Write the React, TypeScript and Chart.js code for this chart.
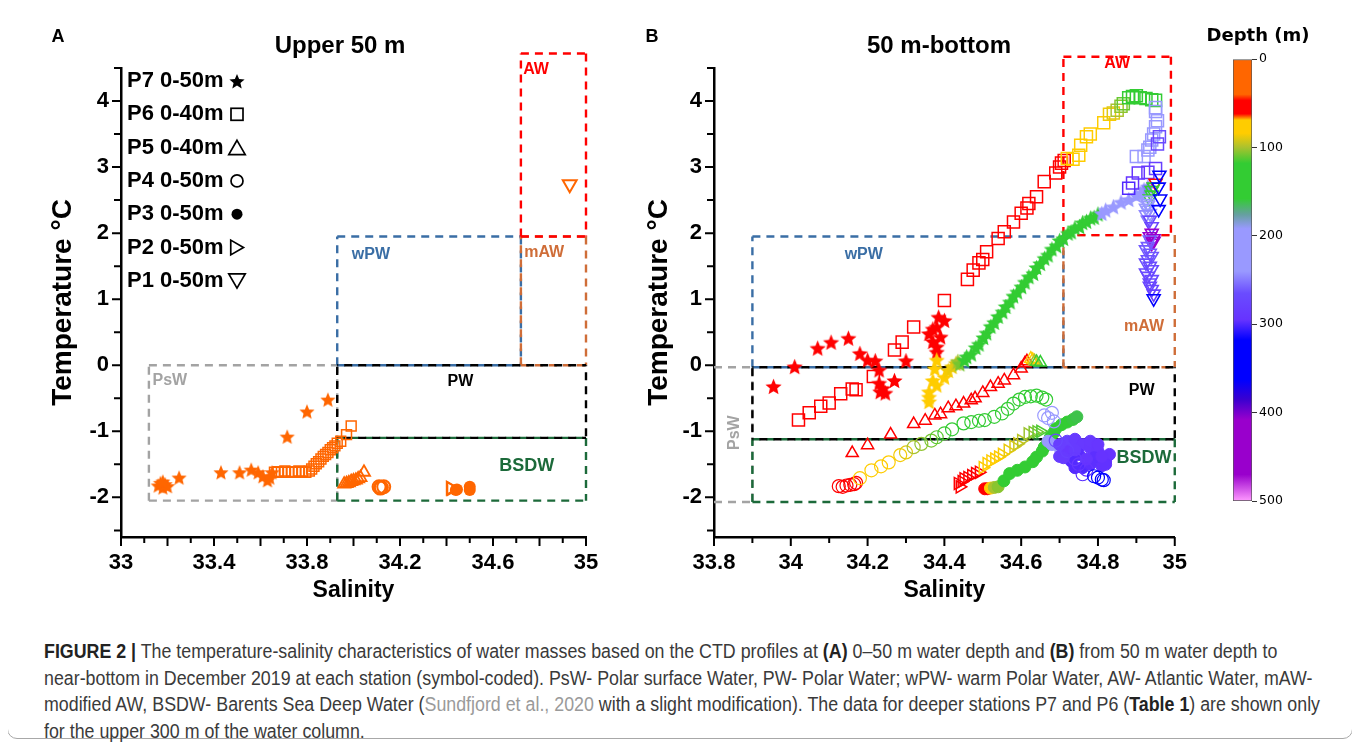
import React, { useEffect, useLayoutEffect, useRef } from 'react';
import { Chart, registerables } from 'chart.js';

Chart.register(...registerables);

const SANS = '"Liberation Sans", Arial, Helvetica, sans-serif';
const ORANGE = '#ff6600';

// ---------- axis ticks ----------
const aSalTicks = [33, 33.1, 33.2, 33.3, 33.4, 33.5, 33.6, 33.7, 33.8, 33.9, 34, 34.1, 34.2, 34.3, 34.4, 34.5, 34.6, 34.7, 34.8, 34.9, 35];
const aSalLabels = [33, 33.4, 33.8, 34.2, 34.6, 35];
const bSalTicks = [33.8, 33.9, 34, 34.1, 34.2, 34.3, 34.4, 34.5, 34.6, 34.7, 34.8, 34.9, 35];
const bSalLabels = [33.8, 34, 34.2, 34.4, 34.6, 34.8, 35];
const tempTicks = [-2.5, -2, -1.5, -1, -0.5, 0, 0.5, 1, 1.5, 2, 2.5, 3, 3.5, 4, 4.5];
const tempLabels = [-2, -1, 0, 1, 2, 3, 4];
const depthTicks = [0, 100, 200, 300, 400, 500];

// ---------- Panel A (upper 50 m) ----------
const aP7Sal = [33.16, 33.17, 33.18, 33.19, 33.2, 33.18, 33.25, 33.43, 33.51, 33.56, 33.59, 33.61, 33.63, 33.65, 33.64, 33.715, 33.8, 33.89];
const aP7Temp = [-1.82, -1.78, -1.85, -1.8, -1.83, -1.76, -1.7, -1.62, -1.62, -1.58, -1.62, -1.68, -1.74, -1.62, -1.7, -1.08, -0.7, -0.52];
const aP6Sal = [33.66, 33.675, 33.69, 33.705, 33.72, 33.735, 33.75, 33.765, 33.78, 33.795, 33.81, 33.82, 33.83, 33.84, 33.85, 33.86, 33.87, 33.88, 33.89, 33.9, 33.91, 33.92, 33.93, 33.945, 33.97, 33.99];
const aP6Temp = [-1.62, -1.61, -1.62, -1.6, -1.62, -1.61, -1.62, -1.6, -1.61, -1.62, -1.6, -1.57, -1.53, -1.49, -1.46, -1.42, -1.38, -1.35, -1.32, -1.28, -1.25, -1.22, -1.18, -1.15, -1.05, -0.92];
const aP5Sal = [33.96, 33.97, 33.98, 33.99, 34.0, 34.01, 34.02, 34.03, 34.045];
const aP5Temp = [-1.8, -1.79, -1.78, -1.76, -1.75, -1.74, -1.72, -1.7, -1.62];
const aP4Sal = [34.11, 34.115, 34.12, 34.13];
const aP4Temp = [-1.84, -1.86, -1.85, -1.84];
const aP3Sal = [34.44, 34.445, 34.5, 34.5];
const aP3Temp = [-1.89, -1.88, -1.84, -1.89];
const aP2Sal = [34.417, 34.42];
const aP2Temp = [-1.86, -1.87];
const aP1Sal = [34.93];
const aP1Temp = [2.74];

// ---------- Panel B (50 m - bottom), with depth (m) ----------
const bP1Sal = [34.95, 34.945, 34.94, 34.94, 34.935, 34.93, 34.925, 34.93, 34.925, 34.93, 34.935, 34.925, 34.93, 34.96, 34.958, 34.962, 34.958, 34.935, 34.94, 34.94, 34.935, 34.945, 34.945, 34.94, 34.935, 34.93, 34.925, 34.935, 34.94, 34.93, 34.925, 34.935, 34.94, 34.925, 34.93, 34.94, 34.935, 34.935, 34.94, 34.945, 34.945];
const bP1Temp = [2.76, 2.7, 2.65, 2.58, 2.52, 2.45, 2.5, 2.42, 2.38, 2.35, 2.3, 2.28, 2.2, 2.88, 2.7, 2.52, 2.36, 2.2, 2.1, 2.0, 1.95, 1.92, 1.88, 1.85, 1.9, 1.8, 1.75, 1.7, 1.65, 1.6, 1.55, 1.5, 1.45, 1.4, 1.35, 1.3, 1.25, 1.2, 1.15, 1.08, 1.01];
const bP1Depth = [50, 125, 130, 135, 140, 200, 230, 235, 210, 240, 220, 245, 250, 340, 347, 352, 357, 270, 275, 430, 435, 440, 445, 450, 258, 259, 260, 261, 262, 263, 264, 265, 266, 267, 268, 269, 270, 271, 272, 280, 340];

const bP6Sal = [34.02, 34.048, 34.078, 34.1, 34.13, 34.16, 34.17, 34.215, 34.27, 34.29, 34.32, 34.4, 34.46, 34.475, 34.49, 34.5, 34.51, 34.54, 34.556, 34.58, 34.6, 34.615, 34.62, 34.64, 34.66, 34.69, 34.7, 34.705, 34.712, 34.72, 34.735, 34.75, 34.755, 34.77, 34.78, 34.815, 34.83, 34.84, 34.85, 34.86, 34.866, 34.88, 34.89, 34.9, 34.91, 34.925, 34.94, 34.95, 34.95, 34.95, 34.955, 34.95, 34.945, 34.94, 34.935, 34.93, 34.92, 34.9, 34.96, 34.955, 34.95, 34.93, 34.905, 34.89, 34.88];
const bP6Temp = [-0.83, -0.72, -0.62, -0.57, -0.43, -0.36, -0.37, -0.17, 0.23, 0.35, 0.58, 0.98, 1.3, 1.44, 1.55, 1.6, 1.72, 1.92, 2.02, 2.17, 2.3, 2.38, 2.45, 2.55, 2.78, 2.91, 3.0, 3.06, 3.1, 3.13, 3.12, 3.18, 3.33, 3.46, 3.5, 3.67, 3.8, 3.82, 3.86, 3.92, 3.96, 4.05, 4.07, 4.08, 4.05, 4.04, 4.02, 4.01, 3.9, 3.84, 3.7, 3.61, 3.5, 3.41, 3.3, 3.26, 3.16, 3.16, 3.46, 3.35, 2.98, 2.92, 2.91, 2.76, 2.68];
const bP6Depth = [50, 50, 51, 51, 52, 52, 52, 53, 53, 54, 54, 55, 55, 56, 56, 56, 57, 57, 58, 58, 59, 59, 60, 60, 60, 60, 61, 61, 61, 70, 72, 75, 76, 78, 80, 83, 86, 90, 100, 105, 110, 125, 130, 135, 140, 145, 150, 155, 195, 200, 205, 210, 215, 220, 225, 230, 235, 240, 265, 270, 280, 285, 290, 295, 300];

const bP7Sal = [
  33.955, 34.01, 34.07, 34.105, 34.15, 34.18, 34.2, 34.22, 34.23, 34.23, 34.233, 34.246, 34.24, 34.27, 34.3, 34.36, 34.37, 34.38, 34.4, 34.385, 34.39, 34.38, 34.38, 34.37,
  34.38, 34.375, 34.37, 34.36, 34.36, 34.36, 34.38, 34.4, 34.41, 34.42, 34.43,
  34.435, 34.44,
  34.452, 34.458, 34.47, 34.482, 34.49, 34.502, 34.51, 34.521, 34.53, 34.54, 34.552, 34.56, 34.571, 34.58, 34.59, 34.601, 34.61, 34.62, 34.632, 34.64, 34.65, 34.661, 34.67, 34.68, 34.692, 34.7, 34.71, 34.722, 34.73, 34.74, 34.752, 34.76, 34.77, 34.781, 34.79, 34.8,
  34.81, 34.82, 34.84, 34.86, 34.88, 34.9, 34.91, 34.92, 34.93,
];
const bP7Temp = [
  -0.32, -0.02, 0.26, 0.35, 0.41, 0.18, 0.08, 0.07, -0.07, -0.27, -0.4, -0.42, -0.35, -0.23, 0.07, 0.48, 0.55, 0.58, 0.68, 0.73, 0.43, 0.28, 0.2, 0.36,
  0.08, -0.05, -0.23, -0.4, -0.48, -0.55, -0.3, -0.18, -0.08, -0.02, 0.03,
  0.06, 0.02,
  0.08, 0.13, 0.17, 0.27, 0.32, 0.42, 0.49, 0.59, 0.65, 0.74, 0.81, 0.89, 0.96, 1.05, 1.11, 1.19, 1.26, 1.34, 1.39, 1.48, 1.54, 1.62, 1.67, 1.76, 1.81, 1.89, 1.92, 2.0, 2.02, 2.08, 2.1, 2.16, 2.18, 2.23, 2.24, 2.29,
  2.3, 2.35, 2.4, 2.47, 2.51, 2.57, 2.6, 2.66, 2.7,
];
const bP7Depth = [
  50, 50, 51, 51, 52, 52, 53, 53, 54, 54, 55, 55, 55, 56, 56, 57, 57, 58, 58, 59, 59, 60, 60, 60,
  70, 72, 74, 76, 78, 80, 82, 84, 86, 88, 92,
  102, 108,
  118, 119, 120, 121, 122, 123, 124, 125, 126, 127, 128, 129, 130, 131, 132, 133, 134, 135, 136, 137, 138, 139, 140, 141, 142, 143, 144, 145, 146, 147, 148, 149, 150, 152, 154, 156,
  192, 196, 200, 205, 210, 220, 230, 240, 250,
];

const bP5Sal = [34.16, 34.2, 34.26, 34.32, 34.35, 34.375, 34.39, 34.41, 34.43, 34.45, 34.47, 34.48, 34.5, 34.52, 34.54, 34.556, 34.58, 34.6, 34.61, 34.615, 34.625, 34.63, 34.635, 34.64, 34.65];
const bP5Temp = [-1.33, -1.21, -1.05, -0.89, -0.84, -0.76, -0.74, -0.65, -0.62, -0.58, -0.53, -0.5, -0.42, -0.33, -0.28, -0.23, -0.15, -0.05, 0.03, 0.06, 0.1, 0.08, 0.06, 0.05, 0.04];
const bP5Depth = [50, 50, 51, 51, 52, 52, 53, 53, 54, 54, 55, 55, 56, 56, 57, 57, 58, 58, 59, 60, 75, 82, 100, 115, 125];

const bP2Sal = [34.435, 34.44, 34.445, 34.45, 34.46, 34.47, 34.48, 34.49, 34.5, 34.51, 34.52, 34.53, 34.54, 34.55, 34.565, 34.58, 34.59, 34.6, 34.617, 34.63, 34.64, 34.65];
const bP2Temp = [-1.79, -1.84, -1.76, -1.72, -1.7, -1.67, -1.64, -1.62, -1.55, -1.49, -1.45, -1.42, -1.39, -1.35, -1.29, -1.23, -1.19, -1.14, -1.04, -1.02, -1.01, -1.0];
const bP2Depth = [50, 50, 52, 53, 55, 57, 59, 60, 70, 73, 76, 79, 82, 85, 88, 91, 94, 97, 102, 106, 110, 114];

const bP4Sal = [34.125, 34.135, 34.145, 34.155, 34.165, 34.17, 34.18, 34.21, 34.235, 34.255, 34.285, 34.3, 34.32, 34.34, 34.366, 34.38, 34.4, 34.42, 34.45, 34.47, 34.49, 34.505, 34.53, 34.55, 34.565, 34.58, 34.595, 34.61, 34.625, 34.64, 34.655, 34.665, 34.66, 34.67, 34.68, 34.685, 34.69, 34.72, 34.74, 34.75, 34.77, 34.76, 34.79, 34.8, 34.81, 34.815];
const bP4Temp = [-1.83, -1.84, -1.82, -1.81, -1.8, -1.78, -1.71, -1.59, -1.53, -1.47, -1.36, -1.32, -1.24, -1.19, -1.14, -1.09, -1.03, -0.97, -0.88, -0.86, -0.84, -0.83, -0.78, -0.73, -0.66, -0.58, -0.52, -0.48, -0.47, -0.46, -0.49, -0.52, -0.76, -0.8, -0.72, -0.85, -1.14, -1.3, -1.42, -1.5, -1.58, -1.65, -1.68, -1.7, -1.73, -1.74];
const bP4Depth = [50, 52, 54, 56, 58, 60, 70, 74, 78, 82, 86, 90, 100, 104, 108, 112, 116, 120, 124, 128, 130, 132, 134, 136, 138, 140, 142, 144, 146, 148, 150, 152, 200, 210, 220, 230, 270, 280, 285, 290, 295, 298, 330, 340, 350, 355];

const bP3Sal = [34.505, 34.512, 34.52, 34.53, 34.54, 34.555, 34.57, 34.59, 34.61, 34.63, 34.64, 34.655, 34.66, 34.67, 34.676, 34.685, 34.69, 34.705, 34.72, 34.735, 34.745, 34.67, 34.68, 34.7, 34.72, 34.74, 34.76, 34.78, 34.8, 34.82, 34.81, 34.79, 34.75, 34.73, 34.76, 34.72, 34.7, 34.7, 34.74, 34.78, 34.8, 34.83, 34.82, 34.78, 34.74, 34.71, 34.77, 34.81];
const bP3Temp = [-1.87, -1.87, -1.86, -1.85, -1.84, -1.75, -1.64, -1.59, -1.54, -1.46, -1.39, -1.3, -1.24, -1.15, -1.09, -1.02, -0.96, -0.9, -0.86, -0.82, -0.78, -1.15, -1.2, -1.25, -1.15, -1.12, -1.2, -1.25, -1.3, -1.45, -1.52, -1.4, -1.35, -1.45, -1.55, -1.3, -1.38, -1.2, -1.28, -1.15, -1.2, -1.35, -1.5, -1.5, -1.55, -1.4, -1.42, -1.38];
const bP3Depth = [50, 55, 75, 100, 105, 118, 122, 126, 130, 134, 138, 142, 145, 148, 150, 152, 154, 156, 158, 160, 162, 210, 220, 230, 280, 285, 288, 290, 292, 295, 296, 297, 298, 299, 300, 290, 286, 282, 286, 289, 291, 294, 296, 297, 299, 287, 293, 295];

// ---------- depth colour map ----------
const cmapDepth = [0, 40, 47, 62, 69, 84, 100, 118, 158, 176, 192, 240, 265, 295, 318, 363, 385, 408, 470, 500];
const cmapColor = ['#ff6600', '#ff6600', '#ff0000', '#ff0000', '#ffcc00', '#ffcc00', '#aac22e', '#33cc33', '#33cc33', '#66a0a0', '#9999ff', '#9999ff', '#6a4cff', '#6633ff', '#0000ff', '#0000ff', '#3a00d0', '#9900cc', '#9900cc', '#ff99ff'];

function hexRgb(c: string) {
  return [parseInt(c.slice(1, 3), 16), parseInt(c.slice(3, 5), 16), parseInt(c.slice(5, 7), 16)];
}
function depthColor(d: number) {
  if (d <= cmapDepth[0]) return cmapColor[0];
  for (let i = 1; i < cmapDepth.length; i++) {
    if (d <= cmapDepth[i]) {
      const t = (d - cmapDepth[i - 1]) / (cmapDepth[i] - cmapDepth[i - 1]);
      const a = hexRgb(cmapColor[i - 1]);
      const b = hexRgb(cmapColor[i]);
      return `rgb(${Math.round(a[0] + (b[0] - a[0]) * t)},${Math.round(a[1] + (b[1] - a[1]) * t)},${Math.round(a[2] + (b[2] - a[2]) * t)})`;
    }
  }
  return cmapColor[cmapColor.length - 1];
}

// ---------- marker helpers ----------
function starPath(ctx: any, cx: number, cy: number, r: number) {
  ctx.beginPath();
  for (let k = 0; k < 10; k++) {
    const rr = k % 2 === 0 ? r : r * 0.45;
    const a = -Math.PI / 2 + (k * Math.PI) / 5;
    const px = cx + rr * Math.cos(a);
    const py = cy + rr * Math.sin(a);
    if (k === 0) ctx.moveTo(px, py);
    else ctx.lineTo(px, py);
  }
  ctx.closePath();
}
const starCache: any = {};
function starImg(color: string, r: number) {
  const key = color + '|' + r;
  if (starCache[key]) return starCache[key];
  const size = Math.ceil(2 * r + 2);
  const c = document.createElement('canvas');
  c.width = size;
  c.height = size;
  const g = c.getContext('2d') as any;
  g.fillStyle = color;
  starPath(g, size / 2, size / 2 + r * 0.1, r);
  g.fill();
  starCache[key] = c;
  return c;
}
function triPath(ctx: any, x: number, y: number, r: number, rotDeg: number) {
  const rot = (rotDeg * Math.PI) / 180;
  ctx.beginPath();
  for (let k = 0; k < 3; k++) {
    const a = rot + (k * 2 * Math.PI) / 3;
    const px = x + Math.sin(a) * r;
    const py = y - Math.cos(a) * r;
    if (k === 0) ctx.moveTo(px, py);
    else ctx.lineTo(px, py);
  }
  ctx.closePath();
}
function drawSym(ctx: any, kind: string, x: number, y: number) {
  ctx.save();
  ctx.lineWidth = 1.7;
  ctx.strokeStyle = '#000';
  ctx.fillStyle = '#000';
  ctx.setLineDash([]);
  if (kind === 'star') {
    starPath(ctx, x, y + 1, 8);
    ctx.fill();
  } else if (kind === 'square') {
    ctx.strokeRect(x - 6, y - 6, 12, 12);
  } else if (kind === 'circle') {
    ctx.beginPath();
    ctx.arc(x, y, 6, 0, Math.PI * 2);
    ctx.stroke();
  } else if (kind === 'dot') {
    ctx.beginPath();
    ctx.arc(x, y, 5.5, 0, Math.PI * 2);
    ctx.fill();
  } else if (kind === 'triUp') {
    triPath(ctx, x, y + 2.2, 9.5, 0);
    ctx.stroke();
  } else if (kind === 'triRight') {
    triPath(ctx, x - 2, y, 8.5, 90);
    ctx.stroke();
  } else if (kind === 'triDown') {
    triPath(ctx, x, y - 2.2, 9.5, 180);
    ctx.stroke();
  }
  ctx.restore();
}

const legendRows = [
  ['P7 0-50m', 'star'],
  ['P6 0-40m', 'square'],
  ['P5 0-40m', 'triUp'],
  ['P4 0-50m', 'circle'],
  ['P3 0-50m', 'dot'],
  ['P2 0-50m', 'triRight'],
  ['P1 0-50m', 'triDown'],
];

// water-mass boxes
const regionsA = [
  { x0: 33.12, x1: 33.93, y0: -2.05, y1: 0, color: '#a3a3a3' },
  { x0: 33.93, x1: 34.72, y0: 0, y1: 1.95, color: '#3a6ea5' },
  { x0: 34.72, x1: 35.0, y0: 0, y1: 1.95, color: '#cf6d38' },
  { x0: 34.72, x1: 35.0, y0: 1.95, y1: 4.72, color: '#ff0000' },
  { x0: 33.93, x1: 35.0, y0: -2.05, y1: -1.1, color: '#1c6a3a' },
  { x0: 33.93, x1: 35.0, y0: -1.1, y1: 0, color: '#000000', phase: 7 },
];
const labelsA = [
  { text: 'PsW', x: 33.21, y: -0.23, color: '#a3a3a3', size: 16 },
  { text: 'wPW', x: 34.075, y: 1.68, color: '#3a6ea5', size: 16 },
  { text: 'AW', x: 34.785, y: 4.47, color: '#ff0000', size: 16 },
  { text: 'mAW', x: 34.82, y: 1.7, color: '#cf6d38', size: 16 },
  { text: 'PW', x: 34.46, y: -0.24, color: '#000000', size: 16 },
  { text: 'BSDW', x: 34.745, y: -1.53, color: '#1c6a3a', size: 18 },
];
const regionsB = [
  { x0: 33.8, x1: 33.9, y0: -2.07, y1: -0.03, color: '#a3a3a3', noLeft: true },
  { x0: 33.9, x1: 34.71, y0: -0.03, y1: 1.95, color: '#3a6ea5' },
  { x0: 34.71, x1: 35.0, y0: -0.03, y1: 1.97, color: '#cf6d38' },
  { x0: 34.71, x1: 34.99, y0: 1.97, y1: 4.67, color: '#ff0000' },
  { x0: 33.9, x1: 35.0, y0: -2.07, y1: -1.12, color: '#1c6a3a' },
  { x0: 33.9, x1: 35.0, y0: -1.12, y1: -0.03, color: '#000000', phase: 7 },
];
const labelsB = [
  { text: 'PsW', x: 33.854, y: -1.02, color: '#a3a3a3', size: 16, rot: true },
  { text: 'wPW', x: 34.19, y: 1.68, color: '#3a6ea5', size: 16 },
  { text: 'AW', x: 34.85, y: 4.56, color: '#ff0000', size: 16 },
  { text: 'mAW', x: 34.92, y: 0.58, color: '#cf6d38', size: 16 },
  { text: 'PW', x: 34.914, y: -0.38, color: '#000000', size: 16 },
  { text: 'BSDW', x: 34.92, y: -1.41, color: '#1c6a3a', size: 18 },
];

const pts = (s: number[], t: number[]) => s.map((x, i) => ({ x, y: t[i] }));
const near = (v: number, list: number[]) => list.find((l) => Math.abs(l - v) < 1e-6);
const mult = (v: number, step: number) => Math.abs(v / step - Math.round(v / step)) < 1e-6;

function makeFrame(key: string, regions: any[], labels: any[], legend: boolean) {
  return {
    id: 'frame' + key,
    beforeDatasetsDraw(chart: any) {
      const { ctx } = chart;
      const xs = chart.scales.x;
      const ys = chart.scales.y;
      ctx.save();
      ctx.lineWidth = 2.4;
      for (const r of regions) {
        const l = xs.getPixelForValue(r.x0);
        const rt = xs.getPixelForValue(r.x1);
        const t = ys.getPixelForValue(r.y1);
        const b = ys.getPixelForValue(r.y0);
        ctx.strokeStyle = r.color;
        ctx.setLineDash([8, 6]);
        ctx.lineDashOffset = r.phase || 0;
        ctx.beginPath();
        if (!r.noLeft) {
          ctx.moveTo(l, b);
          ctx.lineTo(l, t);
        }
        ctx.moveTo(l, t);
        ctx.lineTo(rt, t);
        ctx.moveTo(rt, t);
        ctx.lineTo(rt, b);
        ctx.moveTo(l, b);
        ctx.lineTo(rt, b);
        ctx.stroke();
      }
      ctx.setLineDash([]);
      ctx.textAlign = 'center';
      ctx.textBaseline = 'middle';
      for (const lb of labels) {
        ctx.font = `bold ${lb.size}px ${SANS}`;
        ctx.fillStyle = lb.color;
        const px = xs.getPixelForValue(lb.x);
        const py = ys.getPixelForValue(lb.y);
        if (lb.rot) {
          ctx.save();
          ctx.translate(px, py);
          ctx.rotate(-Math.PI / 2);
          ctx.fillText(lb.text, 0, 0);
          ctx.restore();
        } else ctx.fillText(lb.text, px, py);
      }
      ctx.restore();
    },
    afterDraw(chart: any) {
      const { ctx, chartArea } = chart;
      const xs = chart.scales.x;
      const ys = chart.scales.y;
      ctx.save();
      ctx.strokeStyle = '#000';
      ctx.lineWidth = 2;
      ctx.setLineDash([]);
      ctx.beginPath();
      for (const t of xs.ticks) {
        const px = xs.getPixelForValue(t.value);
        const len = mult(t.value, 0.2) ? 9 : 6;
        ctx.moveTo(px, xs.top);
        ctx.lineTo(px, xs.top + len);
      }
      for (const t of ys.ticks) {
        if (!mult(t.value, 0.5)) continue;
        const py = ys.getPixelForValue(t.value);
        const len = mult(t.value, 1) ? 9 : 7;
        ctx.moveTo(ys.right, py);
        ctx.lineTo(ys.right - len, py);
      }
      ctx.stroke();
      if (legend) {
        ctx.font = `bold 22px ${SANS}`;
        ctx.fillStyle = '#000';
        ctx.textAlign = 'left';
        ctx.textBaseline = 'middle';
        legendRows.forEach(([txt, kind], i) => {
          const yy = chartArea.top + 13 + i * 33.3;
          ctx.fillText(txt, chartArea.left + 6, yy);
          drawSym(ctx, kind, chartArea.left + 116, yy);
        });
      }
      ctx.restore();
    },
  };
}

function scatterOptions(xMin: number, xMax: number, xTicks: number[], xLabels: number[], padding: any, yWidth: number, yTitlePad: number) {
  return {
    responsive: false,
    maintainAspectRatio: false,
    animation: false,
    devicePixelRatio: 1,
    events: [],
    layout: { padding },
    plugins: { legend: { display: false }, tooltip: { enabled: false } },
    scales: {
      x: {
        type: 'linear',
        bounds: 'data',
        min: xMin,
        max: xMax,
        afterBuildTicks: (s: any) => {
          s.ticks = xTicks.map((v) => ({ value: v }));
        },
        afterFit: (s: any) => {
          s.height = 73;
        },
        grid: { display: false, drawTicks: false },
        border: { display: true, color: '#000', width: 2.5 },
        ticks: {
          autoSkip: false,
          maxRotation: 0,
          minRotation: 0,
          padding: 13,
          color: '#000',
          font: { family: SANS, size: 22, weight: 'bold' },
          callback: (v: number) => {
            const m = near(v, xLabels);
            return m === undefined ? '' : String(m);
          },
        },
        title: { display: true, text: 'Salinity', color: '#000', font: { family: SANS, size: 23, weight: 'bold' }, padding: { top: 0, bottom: 6 } },
      },
      y: {
        type: 'linear',
        bounds: 'data',
        min: -2.6,
        max: 4.5,
        afterBuildTicks: (s: any) => {
          s.ticks = tempTicks.map((v) => ({ value: v }));
        },
        afterFit: (s: any) => {
          s.width = yWidth;
        },
        grid: { display: false, drawTicks: false },
        border: { display: true, color: '#000', width: 2.5 },
        ticks: {
          autoSkip: false,
          padding: 12,
          color: '#000',
          font: { family: SANS, size: 22, weight: 'bold' },
          callback: (v: number) => {
            const m = near(v, tempLabels);
            return m === undefined ? '' : String(m);
          },
        },
        title: { display: true, text: 'Temperature °C', color: '#000', font: { family: SANS, size: 28, weight: 'bold' }, padding: { top: yTitlePad, bottom: 0 } },
      },
    },
  };
}

const TRANSPARENT = 'rgba(0,0,0,0)';

function Txt(props: any) {
  const { x, y, size, bold = true, color = '#000', family = SANS, children } = props;
  return (
    <div
      style={{
        position: 'absolute',
        left: x - 8,
        top: y - 8,
        transform: 'translate(-50%,-50%)',
        fontFamily: family,
        fontSize: size,
        fontWeight: bold ? 700 : 400,
        color,
        whiteSpace: 'nowrap',
        lineHeight: 1,
      }}
    >
      {children}
    </div>
  );
}

export default function App() {
  const aRef = useRef<HTMLCanvasElement>(null);
  const bRef = useRef<HTMLCanvasElement>(null);
  const cRef = useRef<HTMLCanvasElement>(null);
  const capRef = useRef<HTMLDivElement>(null);
  const capLine3 = useRef<HTMLSpanElement>(null);

  useLayoutEffect(() => {
    document.documentElement.style.overflow = 'hidden';
    document.body.style.overflow = 'hidden';
    const el = capRef.current;
    const l3 = capLine3.current;
    if (!el || !l3) return;
    el.style.transform = 'none';
    const w = l3.getBoundingClientRect().width;
    if (w > 0) el.style.transform = `scaleX(${1276 / w})`;
  }, []);

  useEffect(() => {
    const charts: any[] = [];

    const dsA = [
      { data: pts(aP1Sal, aP1Temp), pointStyle: 'triangle', pointRotation: 180, pointRadius: 8, pointBorderWidth: 2, pointBorderColor: ORANGE, pointBackgroundColor: TRANSPARENT },
      { data: pts(aP7Sal, aP7Temp), pointStyle: starImg(ORANGE, 8), pointRadius: 8, pointBorderWidth: 0 },
      { data: pts(aP6Sal, aP6Temp), pointStyle: 'rect', pointRadius: 7, pointBorderWidth: 1.5, pointBorderColor: ORANGE, pointBackgroundColor: TRANSPARENT },
      { data: pts(aP5Sal, aP5Temp), pointStyle: 'triangle', pointRadius: 7, pointBorderWidth: 1.8, pointBorderColor: ORANGE, pointBackgroundColor: TRANSPARENT },
      { data: pts(aP4Sal, aP4Temp), pointStyle: 'circle', pointRadius: 6.5, pointBorderWidth: 2, pointBorderColor: ORANGE, pointBackgroundColor: TRANSPARENT },
      { data: pts(aP3Sal, aP3Temp), pointStyle: 'circle', pointRadius: 6, pointBorderWidth: 0, pointBorderColor: ORANGE, pointBackgroundColor: ORANGE },
      { data: pts(aP2Sal, aP2Temp), pointStyle: 'triangle', pointRotation: 90, pointRadius: 7.5, pointBorderWidth: 1.8, pointBorderColor: ORANGE, pointBackgroundColor: TRANSPARENT },
    ].map((d) => ({ ...d, showLine: false, clip: 12 }));

    charts.push(
      new Chart(aRef.current as any, {
        type: 'scatter',
        data: { datasets: dsA as any },
        options: scatterOptions(33, 35, aSalTicks, aSalLabels, { left: 0, right: 54, top: 60, bottom: 0 }, 113, 38) as any,
        plugins: [makeFrame('A', regionsA, labelsA, true) as any],
      })
    );

    const dsB = [
      { data: pts(bP1Sal, bP1Temp), pointStyle: 'triangle', pointRotation: 180, pointRadius: 7.5, pointBorderWidth: 1.6, pointBorderColor: bP1Depth.map(depthColor), pointBackgroundColor: TRANSPARENT },
      { data: pts(bP6Sal, bP6Temp), pointStyle: 'rect', pointRadius: 8.5, pointBorderWidth: 1.5, pointBorderColor: bP6Depth.map(depthColor), pointBackgroundColor: TRANSPARENT },
      { data: pts(bP7Sal, bP7Temp), pointStyle: bP7Depth.map((d) => starImg(depthColor(d), 8.5)), pointRadius: 8, pointBorderWidth: 0 },
      { data: pts(bP5Sal, bP5Temp), pointStyle: 'triangle', pointRadius: 7, pointBorderWidth: 1.5, pointBorderColor: bP5Depth.map(depthColor), pointBackgroundColor: TRANSPARENT },
      { data: pts(bP2Sal, bP2Temp), pointStyle: 'triangle', pointRotation: 90, pointRadius: 7, pointBorderWidth: 1.5, pointBorderColor: bP2Depth.map(depthColor), pointBackgroundColor: TRANSPARENT },
      { data: pts(bP4Sal, bP4Temp), pointStyle: 'circle', pointRadius: 6.5, pointBorderWidth: 1.2, pointBorderColor: bP4Depth.map(depthColor), pointBackgroundColor: TRANSPARENT },
      { data: pts(bP3Sal, bP3Temp), pointStyle: 'circle', pointRadius: 6, pointBorderWidth: 1, pointBorderColor: bP3Depth.map(depthColor), pointBackgroundColor: bP3Depth.map(depthColor) },
    ].map((d) => ({ ...d, showLine: false, clip: 12 }));

    charts.push(
      new Chart(bRef.current as any, {
        type: 'scatter',
        data: { datasets: dsB as any },
        options: scatterOptions(33.8, 35, bSalTicks, bSalLabels, { left: 0, right: 22, top: 60, bottom: 0 }, 74, 2) as any,
        plugins: [makeFrame('B', regionsB, labelsB, false) as any],
      })
    );

    charts.push(
      new Chart(cRef.current as any, {
        type: 'bar',
        data: {
          labels: [''],
          datasets: [
            {
              data: [[0, 500]] as any,
              backgroundColor: (c: any) => {
                const chart = c.chart;
                if (!chart.chartArea) return '#ffffff';
                const y = chart.scales.y;
                const g = chart.ctx.createLinearGradient(0, y.getPixelForValue(0), 0, y.getPixelForValue(500));
                cmapDepth.forEach((d, i) => g.addColorStop(d / 500, cmapColor[i]));
                return g;
              },
              borderColor: '#555555',
              borderWidth: 1,
              borderSkipped: false,
              barPercentage: 1,
              categoryPercentage: 1,
            },
          ],
        },
        options: {
          responsive: false,
          maintainAspectRatio: false,
          animation: false,
          devicePixelRatio: 1,
          events: [],
          layout: { padding: { left: 43, top: 51, bottom: 27, right: 0 } },
          plugins: { legend: { display: false }, tooltip: { enabled: false } },
          scales: {
            x: { display: false },
            y: {
              position: 'right',
              reverse: true,
              min: 0,
              max: 500,
              bounds: 'data',
              afterBuildTicks: (s: any) => {
                s.ticks = depthTicks.map((v) => ({ value: v }));
              },
              afterFit: (s: any) => {
                s.width = 88;
              },
              grid: { display: true, drawOnChartArea: false, drawTicks: true, tickLength: 5, color: '#333333', lineWidth: 1 },
              border: { display: false },
              ticks: { padding: 2, color: '#000', font: { family: '"DejaVu Sans", Verdana, sans-serif', size: 12.5 } },
            },
          },
        } as any,
      })
    );

    return () => charts.forEach((c) => c.destroy());
  }, []);

  return (
    <div style={{ position: 'relative', width: 1344, height: 736, overflow: 'hidden', background: '#fff' }}>
      <div
        style={{
          position: 'absolute',
          left: -1,
          top: -20,
          width: 1346,
          height: 751,
          boxSizing: 'border-box',
          border: '1.5px solid #a8a8a8',
          borderRadius: 10,
        }}
      />
      <canvas ref={aRef} width={632} height={602} style={{ position: 'absolute', left: 0, top: 0, width: 632, height: 602 }} />
      <canvas ref={bRef} width={560} height={602} style={{ position: 'absolute', left: 632, top: 0, width: 560, height: 602 }} />
      <canvas ref={cRef} width={150} height={520} style={{ position: 'absolute', left: 1182, top: 0, width: 150, height: 520 }} />

      <Txt x={58} y={36} size={18}>A</Txt>
      <Txt x={652} y={36} size={18}>B</Txt>
      <Txt x={340} y={45} size={24}>Upper 50 m</Txt>
      <Txt x={939} y={45} size={24}>50 m-bottom</Txt>
      <Txt x={1258} y={35} size={18} family={'"DejaVu Sans", Verdana, sans-serif'}>Depth (m)</Txt>

      <div
        ref={capRef}
        style={{
          position: 'absolute',
          left: 36,
          top: 630,
          fontFamily: SANS,
          fontSize: 19.5,
          lineHeight: '26.7px',
          color: '#3a3a3a',
          whiteSpace: 'nowrap',
          transformOrigin: 'left top',
        }}
      >
        <div>
          <span>
            <b style={{ color: '#222' }}>FIGURE 2 |</b> The temperature-salinity characteristics of water masses based on the CTD profiles at <b style={{ color: '#222' }}>(A)</b> 0–50 m water depth and <b style={{ color: '#222' }}>(B)</b> from 50 m water depth to
          </span>
        </div>
        <div>
          <span>near-bottom in December 2019 at each station (symbol-coded). PsW- Polar surface Water, PW- Polar Water; wPW- warm Polar Water, AW- Atlantic Water, mAW-</span>
        </div>
        <div>
          <span ref={capLine3}>
            modified AW, BSDW- Barents Sea Deep Water (<span style={{ color: '#9a9a9a' }}>Sundfjord et al., 2020</span> with a slight modification). The data for deeper stations P7 and P6 (<b style={{ color: '#222' }}>Table 1</b>) are shown only
          </span>
        </div>
        <div>
          <span>for the upper 300 m of the water column.</span>
        </div>
      </div>
    </div>
  );
}
